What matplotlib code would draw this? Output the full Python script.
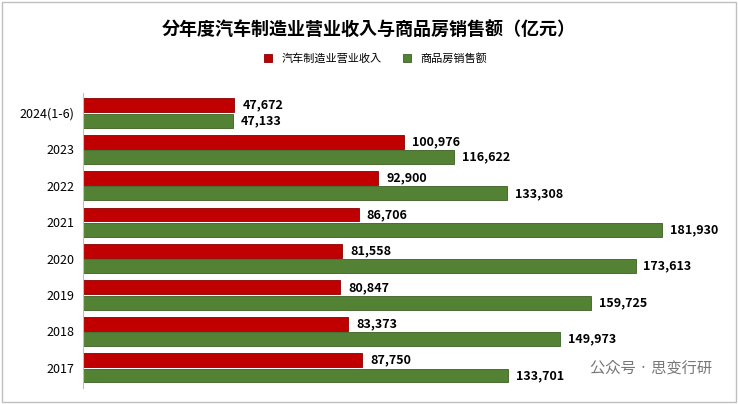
import matplotlib
matplotlib.use("Agg")
import matplotlib.pyplot as plt
from matplotlib import font_manager as fm
import numpy as np

cjk = [f.name for f in fm.fontManager.ttflist if "CJK" in f.name]
cjk_name = "Noto Sans CJK SC" if "Noto Sans CJK SC" in cjk else (cjk[0] if cjk else "DejaVu Sans")
plt.rcParams['font.family'] = [cjk_name, 'DejaVu Sans']

categories = ["2024(1-6)", "2023", "2022", "2021", "2020", "2019", "2018", "2017"]
auto = [47672, 100976, 92900, 86706, 81558, 80847, 83373, 87750]
house = [47133, 116622, 133308, 181930, 173613, 159725, 149973, 133701]
series_names = ["汽车制造业营业收入", "商品房销售额"]

fig = plt.figure(figsize=(7.38, 4.04), dpi=100)
ax = fig.add_axes([0.112, 0.04, 0.863, 0.73])
y = np.arange(len(categories))
h = 0.38
ax.barh(y - 0.21, auto, height=h, color="#c00000", edgecolor="#8b0000", linewidth=0.6, label=series_names[0])
ax.barh(y + 0.21, house, height=h, color="#548235", edgecolor="#3a5e24", linewidth=0.6, label=series_names[1])
for yi, a, b in zip(y, auto, house):
    ax.text(a + 2500, yi - 0.21, f"{a:,}", va="center", ha="left", fontsize=9, fontweight="bold")
    ax.text(b + 2500, yi + 0.21, f"{b:,}", va="center", ha="left", fontsize=9, fontweight="bold")
ax.set_xlim(0, 200000)
ax.set_ylim(7.55, -0.55)
ax.set_yticks(y)
ax.set_yticklabels(categories, fontsize=9)
ax.set_xticks([])
for s in ["top", "right", "bottom"]:
    ax.spines[s].set_visible(False)
ax.spines["left"].set_color("#bfbfbf")
ax.tick_params(axis="y", length=0, pad=6)

fig.text(0.5, 0.925, "分年度汽车制造业营业收入与商品房销售额（亿元）", ha="center", va="center",
         fontsize=13, fontweight="bold")
ax.legend(loc="upper center", bbox_to_anchor=(0.46, 1.17), ncol=2, frameon=False,
          fontsize=8, handlelength=0.7, handleheight=0.7, columnspacing=2)
fig.text(0.965, 0.09, "公众号 · 思变行研", ha="right", va="center", fontsize=11, color="#777777")
fig.patches.append(matplotlib.patches.Rectangle((0.003, 0.005), 0.994, 0.99, transform=fig.transFigure,
                                                fill=False, edgecolor="#bfbfbf", linewidth=1))
fig.savefig("out.png", dpi=100)
